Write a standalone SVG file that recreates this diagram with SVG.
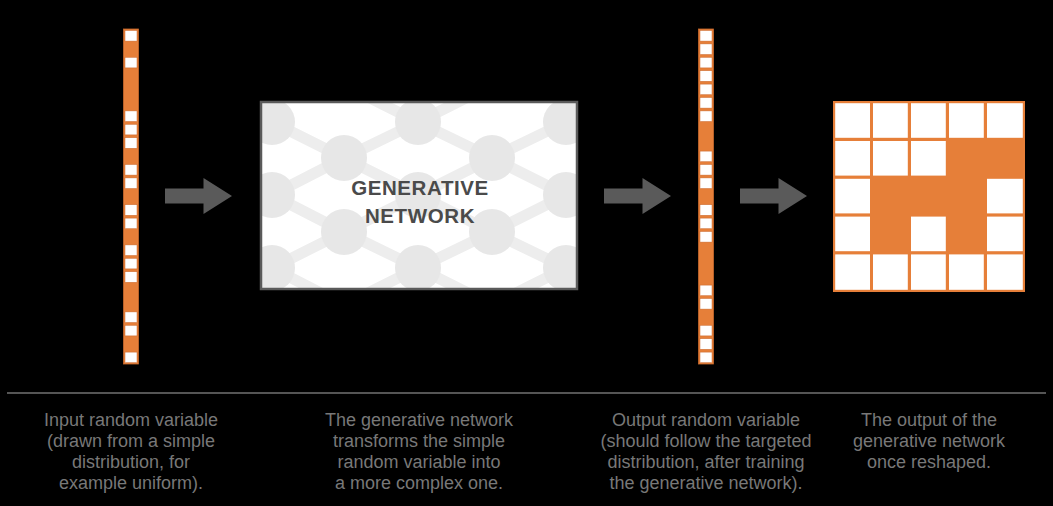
<svg xmlns="http://www.w3.org/2000/svg" width="1053" height="506" viewBox="0 0 1053 506">
<style>
.col{fill:#E67F39;stroke:#C9692C;stroke-width:0.8}
.w{fill:#FFFFFF;stroke:#C9692C;stroke-width:0.5}
.gw{fill:#FFFFFF}
.arrow{fill:#5A5A5A}
.cap{font-family:"Liberation Sans",Arial,sans-serif;font-size:18px;fill:#787878;text-anchor:middle}
.title{font-family:"Liberation Sans",Arial,sans-serif;font-size:20.5px;font-weight:bold;fill:#4A4A4A;text-anchor:middle;letter-spacing:0.6px}
.nd{fill:#E7E7E7}
.ed{stroke:#EDEDED;stroke-width:11;fill:none}
</style>
<defs>
<clipPath id="boxclip"><rect x="261" y="102" width="316" height="187"/></clipPath>
<path id="arr" d="M0,-7.5 H38.5 V-18 L67,0 L38.5,18 V7.5 H0 Z"/>
</defs>
<rect x="0" y="0" width="1053" height="506" fill="#000000"/>

<g id="input-vector">
<rect class="col" x="123.5" y="29" width="15" height="335"/>
<rect class="w" x="125" y="30.5" width="12" height="10.6"/>
<rect class="w" x="125" y="57.3" width="12" height="10.6"/>
<rect class="w" x="125" y="110.9" width="12" height="10.6"/>
<rect class="w" x="125" y="124.3" width="12" height="10.6"/>
<rect class="w" x="125" y="137.7" width="12" height="10.6"/>
<rect class="w" x="125" y="164.5" width="12" height="10.6"/>
<rect class="w" x="125" y="177.9" width="12" height="10.6"/>
<rect class="w" x="125" y="204.7" width="12" height="10.6"/>
<rect class="w" x="125" y="218.1" width="12" height="10.6"/>
<rect class="w" x="125" y="244.9" width="12" height="10.6"/>
<rect class="w" x="125" y="258.3" width="12" height="10.6"/>
<rect class="w" x="125" y="271.7" width="12" height="10.6"/>
<rect class="w" x="125" y="311.9" width="12" height="10.6"/>
<rect class="w" x="125" y="325.3" width="12" height="10.6"/>
<rect class="w" x="125" y="352.1" width="12" height="10.6"/>
</g>

<g id="generative-network">
<rect x="261" y="102" width="316" height="187" fill="#FFFFFF"/>
<g clip-path="url(#boxclip)">
<path class="ed" d="M198,85 L272,122 L344,158 L418,122 L492,158 L566,122 L640,158 M198,158 L272,122 M418,122 L344,85 M418,122 L492,85 M566,122 L640,85 M198,158 L272,195 L344,158 L418,195 L492,158 L566,195 L640,158 M198,232 L272,195 L344,232 L418,195 L492,232 L566,195 L640,232 M198,232 L272,268 L344,232 L418,268 L492,232 L566,268 L640,232 M198,305 L272,268 L344,305 L418,268 L492,305 L566,268 L640,305"/>
<circle class="nd" cx="272" cy="122" r="23"/>
<circle class="nd" cx="418" cy="122" r="23"/>
<circle class="nd" cx="566" cy="122" r="23"/>
<circle class="nd" cx="344" cy="158" r="23"/>
<circle class="nd" cx="492" cy="158" r="23"/>
<circle class="nd" cx="272" cy="195" r="23"/>
<circle class="nd" cx="418" cy="195" r="23"/>
<circle class="nd" cx="566" cy="195" r="23"/>
<circle class="nd" cx="344" cy="232" r="23"/>
<circle class="nd" cx="492" cy="232" r="23"/>
<circle class="nd" cx="272" cy="268" r="23"/>
<circle class="nd" cx="418" cy="268" r="23"/>
<circle class="nd" cx="566" cy="268" r="23"/>
</g>
<rect x="261" y="102" width="316" height="187" fill="none" stroke="#5A5A5A" stroke-width="2.5"/>
<text class="title" x="420" y="195">GENERATIVE</text>
<text class="title" x="420" y="223">NETWORK</text>
</g>

<g id="output-vector">
<rect class="col" x="698.5" y="29" width="15" height="335"/>
<rect class="w" x="700" y="30.5" width="12" height="10.6"/>
<rect class="w" x="700" y="43.9" width="12" height="10.6"/>
<rect class="w" x="700" y="57.3" width="12" height="10.6"/>
<rect class="w" x="700" y="70.7" width="12" height="10.6"/>
<rect class="w" x="700" y="84.1" width="12" height="10.6"/>
<rect class="w" x="700" y="97.5" width="12" height="10.6"/>
<rect class="w" x="700" y="110.9" width="12" height="10.6"/>
<rect class="w" x="700" y="151.1" width="12" height="10.6"/>
<rect class="w" x="700" y="164.5" width="12" height="10.6"/>
<rect class="w" x="700" y="177.9" width="12" height="10.6"/>
<rect class="w" x="700" y="204.7" width="12" height="10.6"/>
<rect class="w" x="700" y="218.1" width="12" height="10.6"/>
<rect class="w" x="700" y="231.5" width="12" height="10.6"/>
<rect class="w" x="700" y="285.1" width="12" height="10.6"/>
<rect class="w" x="700" y="298.5" width="12" height="10.6"/>
<rect class="w" x="700" y="325.3" width="12" height="10.6"/>
<rect class="w" x="700" y="338.7" width="12" height="10.6"/>
<rect class="w" x="700" y="352.1" width="12" height="10.6"/>
</g>

<g id="reshaped-output">
<rect x="833" y="101" width="192" height="191" fill="#E67F39"/>
<rect class="gw" x="835.2" y="103.2" width="34.8" height="34.6"/>
<rect class="gw" x="873" y="103.2" width="34.8" height="34.6"/>
<rect class="gw" x="911" y="103.2" width="34.8" height="34.6"/>
<rect class="gw" x="949" y="103.2" width="34.8" height="34.6"/>
<rect class="gw" x="987" y="103.2" width="35.8" height="34.6"/>

<rect class="gw" x="835.2" y="141" width="34.8" height="34.6"/>
<rect class="gw" x="873" y="141" width="34.8" height="34.6"/>
<rect class="gw" x="911" y="141" width="34.8" height="34.6"/>

<rect class="gw" x="835.2" y="178.8" width="34.8" height="34.6"/>
<rect class="gw" x="987" y="178.8" width="35.8" height="34.6"/>

<rect class="gw" x="835.2" y="216.6" width="34.8" height="34.6"/>
<rect class="gw" x="911" y="216.6" width="34.8" height="34.6"/>
<rect class="gw" x="987" y="216.6" width="35.8" height="34.6"/>

<rect class="gw" x="835.2" y="254.4" width="34.8" height="35.4"/>
<rect class="gw" x="873" y="254.4" width="34.8" height="35.4"/>
<rect class="gw" x="911" y="254.4" width="34.8" height="35.4"/>
<rect class="gw" x="949" y="254.4" width="34.8" height="35.4"/>
<rect class="gw" x="987" y="254.4" width="35.8" height="35.4"/>
</g>

<g id="connectors">
<use href="#arr" class="arrow" x="165" y="196"/>
<use href="#arr" class="arrow" x="604" y="196"/>
<use href="#arr" class="arrow" x="740" y="196"/>
</g>

<line x1="7" y1="393" x2="1046" y2="393" stroke="#555555" stroke-width="2"/>

<g id="caption-input">
<text class="cap" x="131" y="426">Input random variable</text>
<text class="cap" x="131" y="447">(drawn from a simple</text>
<text class="cap" x="131" y="468">distribution, for</text>
<text class="cap" x="131" y="489">example uniform).</text>
</g>
<g id="caption-network">
<text class="cap" x="419" y="426">The generative network</text>
<text class="cap" x="419" y="447">transforms the simple</text>
<text class="cap" x="419" y="468">random variable into</text>
<text class="cap" x="419" y="489">a more complex one.</text>
</g>
<g id="caption-output">
<text class="cap" x="706" y="426">Output random variable</text>
<text class="cap" x="706" y="447">(should follow the targeted</text>
<text class="cap" x="706" y="468">distribution, after training</text>
<text class="cap" x="706" y="489">the generative network).</text>
</g>
<g id="caption-reshaped">
<text class="cap" x="929" y="426">The output of the</text>
<text class="cap" x="929" y="447">generative network</text>
<text class="cap" x="929" y="468">once reshaped.</text>
</g>
</svg>
